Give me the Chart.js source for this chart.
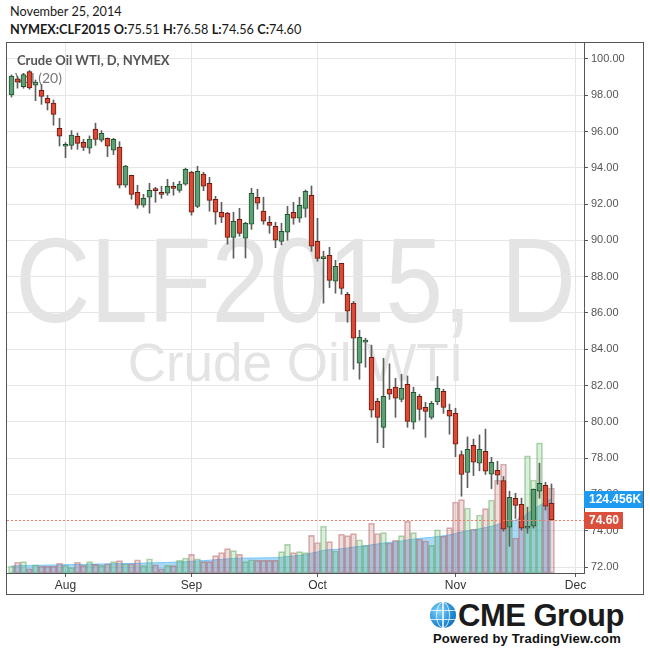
<!DOCTYPE html>
<html>
<head>
<meta charset="utf-8">
<script src="https://cdn.jsdelivr.net/npm/chart.js@4.4.1/dist/chart.umd.min.js"></script>
<style>
  body { margin: 0; background: #fff; width: 650px; height: 652px; position: relative; overflow: hidden; font-family: Lato, "Open Sans", sans-serif; }
  .head { position: absolute; left: 10px; font-size: 12.7px; line-height: 15px; color: #1a1a1a; white-space: nowrap; }
  #date { top: 4px; }
  #quote { top: 22px; }
  #quote b { font-weight: 700; }
  #frame { position: absolute; left: 6px; top: 42px; width: 636px; height: 551px; border: 1px solid #555; }
  #frame canvas { display: block; }
  #globe { position: absolute; left: 430px; top: 602px; width: 26px; height: 26px; border-radius: 50%;
    background:
      linear-gradient(to bottom, transparent 30%, rgba(255,255,255,.75) 30%, rgba(255,255,255,.75) 35%, transparent 35%, transparent 65%, rgba(255,255,255,.75) 65%, rgba(255,255,255,.75) 70%, transparent 70%),
      linear-gradient(to right, transparent 47%, rgba(255,255,255,.75) 47%, rgba(255,255,255,.75) 53%, transparent 53%),
      radial-gradient(circle at 35% 35%, #86d6fa, #1b86d6 60%, #0c5a9e); }
  #globe i { position: absolute; left: 6px; top: 0; width: 12px; height: 24px; border: 1px solid rgba(255,255,255,.75); border-radius: 50%; }
  #cme { position: absolute; left: 458px; top: 598px; font: bold 31px "Liberation Sans", Arial, sans-serif; color: #1b1b1b; letter-spacing: -0.5px; }
  #powered { position: absolute; left: 433px; top: 631px; font: bold 13px "Liberation Sans", Arial, sans-serif; color: #111; letter-spacing: 0.2px; }
</style>
</head>
<body>
<div class="head" id="date">November 25, 2014</div>
<div class="head" id="quote"><b>NYMEX:CLF2015 O:</b>75.51 <b>H:</b>76.58 <b>L:</b>74.56 <b>C:</b>74.60</div>
<div id="frame"><canvas id="chart" width="636" height="551"></canvas></div>
<div id="globe"><i></i></div>
<div id="cme">CME Group</div>
<div id="powered">Powered by TradingView.com</div>

<script>
// daily bars Jul 21 .. Nov 25 2014, one entry per trading day
const opens = [98.02, 98.91, 98.47, 99.30, 98.55, 98.27, 97.83, 97.57, 96.18, 95.19,
  95.24, 95.74, 95.41, 95.08, 96.13, 95.52, 95.63, 94.97, 95.15, 93.04,
  93.59, 92.65, 91.94, 92.38, 92.78, 92.65, 92.60, 92.93, 92.76, 93.10,
  93.76, 91.88, 93.65, 93.15, 92.27, 91.55, 91.50, 90.17, 91.16, 90.12,
  90.89, 92.38, 91.61, 91.00, 90.78, 89.95, 90.45, 91.55, 91.22, 91.77,
  92.49, 89.95, 89.00, 89.18, 87.75, 88.74, 87.03, 86.54, 83.23, 84.39,
  83.56, 81.13, 79.70, 81.80, 81.91, 81.24, 82.07, 79.98, 81.41, 80.80,
  80.25, 81.10, 81.68, 80.64, 80.47, 78.20, 77.22, 78.71, 77.72, 78.38,
  77.11, 77.33, 76.77, 74.19, 75.79, 75.46, 74.14, 74.25, 76.18, 76.50,
  75.51]
const highs = [99.12, 99.03, 99.20, 99.36, 98.84, 98.60, 98.00, 97.74, 96.73, 95.39,
  96.05, 95.92, 95.57, 95.76, 96.46, 96.05, 95.65, 95.63, 95.44, 94.14,
  93.60, 93.04, 92.54, 93.15, 92.93, 92.98, 93.37, 93.20, 93.26, 93.98,
  93.81, 94.09, 93.76, 93.48, 92.43, 92.10, 91.55, 91.55, 91.77, 91.00,
  92.87, 92.82, 92.38, 91.33, 91.00, 90.94, 91.88, 92.10, 92.38, 92.78,
  93.00, 91.22, 89.40, 89.62, 88.90, 88.74, 87.14, 86.64, 85.05, 84.61,
  84.22, 81.30, 83.50, 83.20, 82.40, 82.62, 82.53, 81.91, 81.52, 81.08,
  81.13, 82.50, 81.80, 80.98, 80.75, 78.40, 79.17, 79.05, 79.28, 79.60,
  78.05, 77.83, 76.99, 76.18, 76.06, 75.80, 75.30, 76.30, 77.72, 76.67,
  76.58]
const lows = [97.90, 98.39, 98.39, 98.33, 97.70, 97.50, 97.19, 96.35, 95.20, 94.56,
  95.02, 95.02, 94.95, 94.80, 95.24, 95.43, 94.62, 94.73, 92.89, 92.93,
  92.27, 91.77, 91.83, 91.50, 92.10, 92.32, 92.49, 92.49, 92.65, 93.04,
  91.39, 91.80, 92.74, 91.61, 90.89, 90.98, 89.79, 89.02, 90.23, 89.03,
  90.61, 91.72, 90.89, 90.39, 89.60, 89.75, 90.01, 90.89, 91.00, 91.28,
  89.40, 88.85, 86.54, 87.40, 87.09, 87.03, 85.49, 82.90, 82.35, 83.01,
  80.25, 78.85, 78.58, 81.24, 80.25, 81.10, 79.70, 79.60, 80.09, 79.15,
  80.15, 80.95, 80.47, 79.32, 78.08, 75.90, 76.37, 77.04, 77.30, 77.10,
  76.32, 76.56, 73.97, 73.14, 74.68, 74.03, 73.86, 74.14, 75.79, 75.14,
  74.56]
const closes = [99.06, 98.72, 99.14, 98.40, 98.72, 97.94, 97.56, 96.95, 95.74, 95.30,
  95.80, 95.35, 95.13, 95.59, 95.57, 95.90, 95.19, 95.57, 93.04, 94.09,
  92.54, 91.94, 92.32, 92.76, 92.74, 92.54, 92.98, 92.87, 93.10, 93.92,
  91.55, 93.81, 92.99, 92.21, 91.55, 91.28, 90.17, 91.05, 90.39, 90.94,
  92.60, 92.05, 91.06, 90.83, 90.01, 90.50, 91.44, 91.22, 91.94, 92.71,
  89.68, 89.01, 89.04, 87.80, 88.57, 87.36, 86.10, 84.61, 84.66, 84.44,
  80.64, 80.25, 81.41, 81.52, 81.30, 81.85, 80.03, 81.63, 80.69, 80.58,
  81.02, 81.85, 80.80, 80.31, 78.77, 77.10, 78.49, 77.78, 78.49, 77.28,
  77.77, 77.06, 74.08, 75.84, 75.40, 74.14, 74.25, 76.28, 76.61, 75.35,
  74.60]
// volume, thousands of contracts
const volumes = [11.8, 18.0, 19.0, 7.2, 13.9, 11.8, 11.3, 11.3, 16.3, 13.4,
  8.9, 18.0, 12.9, 19.0, 14.6, 12.9, 15.6, 19.0, 20.7, 15.6,
  15.6, 22.3, 12.3, 24.0, 13.9, 7.2, 12.9, 12.3, 21.3, 25.2,
  31.4, 24.0, 19.0, 19.0, 29.1, 34.1, 40.8, 37.5, 31.4, 19.0,
  22.3, 21.3, 21.3, 21.3, 21.3, 35.8, 48.2, 34.1, 35.8, 34.1,
  63.3, 51.2, 78.5, 52.6, 37.0, 65.0, 62.7, 66.0, 55.9, 46.5,
  83.5, 66.4, 67.7, 50.4, 55.4, 62.7, 86.9, 67.7, 57.1, 53.8,
  46.5, 72.7, 61.7, 76.1, 119.3, 123.1, 109.2, 73.9, 97.4, 108.0,
  122.6, 156.2, 183.1, 87.4, 58.8, 94.1, 196.6, 156.2, 218.4, 114.2,
  142.8]
// Vol (20) moving average as drawn, thousands
const volumeMA = [11.8, 12.1, 12.4, 12.6, 12.8, 13.1, 13.3, 13.4, 13.6, 13.9,
  14.1, 14.3, 14.4, 14.8, 15.0, 15.1, 15.3, 15.5, 15.6, 15.8,
  16.0, 16.3, 16.6, 17.0, 17.3, 17.5, 17.8, 18.1, 18.5, 18.8,
  19.7, 20.3, 20.8, 21.5, 22.2, 22.8, 23.7, 24.4, 24.9, 25.0,
  25.2, 25.2, 25.4, 25.5, 25.7, 26.5, 27.7, 28.6, 29.6, 30.7,
  33.3, 35.3, 38.0, 39.1, 39.6, 40.8, 42.0, 43.5, 44.7, 45.4,
  47.4, 48.7, 50.4, 51.4, 52.6, 53.6, 55.4, 56.8, 58.1, 59.1,
  59.8, 61.2, 62.5, 63.8, 66.4, 68.9, 70.9, 72.2, 74.3, 76.3,
  78.3, 81.3, 85.0, 87.4, 88.7, 91.6, 100.0, 106.7, 113.4, 119.3,
  124.456]
const priceTicks = [72, 74, 76, 78, 80, 82, 84, 86, 88, 90, 92, 94, 96, 98, 100]
const monthLabels = ["Aug", "Sep", "Oct", "Nov", "Dec"]
const monthStarts = [9, 30, 51, 74, 94]   // trading-day index of each month's first session

const idx = opens.map((_, i) => i)
const isUp = idx.map(i => closes[i] >= opens[i])
const last = closes.length - 1

//#region overlay plugin
const overlay = {
    id: "overlay",
    beforeDraw: chart => {
        let { ctx, chartArea: a } = chart
        let cx = (a.left + a.right) / 2
        ctx.save()
        ctx.fillStyle = "#e4e4e4"
        ctx.textAlign = "center"
        // big symbol watermark is a bit taller than plain Liberation Sans
        ctx.save()
        ctx.translate(cx, a.top + 279)
        ctx.scale(1, 1.15)
        ctx.font = '104px "Liberation Sans"'
        ctx.fillText("CLF2015, D", 0, 0)
        ctx.restore()
        ctx.font = '53px "Liberation Sans"'
        ctx.fillText("Crude Oil WTI", cx, a.top + 338)
        ctx.restore()
    },
    beforeDatasetsDraw: chart => {
        let { ctx, chartArea: a } = chart
        ctx.save()
        ctx.textAlign = "left"
        ctx.fillStyle = "#555"
        ctx.font = 'bold 13px Lato'
        ctx.fillText("Crude Oil WTI, D, NYMEX", a.left + 10, a.top + 22)
        ctx.fillStyle = "#777"
        ctx.font = '14px Lato'
        ctx.fillText("Vol (20)", a.left + 8, a.top + 40)
        ctx.restore()
    },
    afterDraw: chart => {
        let { ctx, chartArea: a, scales } = chart
        let py = scales.y.getPixelForValue(closes[last])
        let vy = scales.v.getPixelForValue(volumeMA[last])
        ctx.save()
        ctx.strokeStyle = "#ef7b68"
        ctx.lineWidth = 1
        ctx.setLineDash([2, 2])
        ctx.beginPath()
        ctx.moveTo(a.left, Math.round(py) + 0.5)
        ctx.lineTo(a.right, Math.round(py) + 0.5)
        ctx.stroke()
        ctx.setLineDash([])
        ctx.font = 'bold 12px "Liberation Sans"'
        ctx.textBaseline = "middle"
        ctx.fillStyle = "#1e9af0"
        ctx.fillRect(a.right, Math.round(vy) - 8, chart.width - a.right, 17)
        ctx.fillStyle = "#fff"
        ctx.fillText(volumeMA[last].toFixed(3) + "K", a.right + 5, Math.round(vy) + 1)
        ctx.fillStyle = "#d9503c"
        ctx.fillRect(a.right, Math.round(py) - 8, 39, 17)
        ctx.fillStyle = "#fff"
        ctx.fillText(closes[last].toFixed(2), a.right + 5, Math.round(py) + 1)
        ctx.restore()
    }
}
//#endregion

//#region chart
new Chart("chart", {
    type: "bar",
    data: {
        datasets: [{
            label: "body",
            data: idx.map(i => ({ x: i, y: [opens[i], closes[i]] })),
            backgroundColor: idx.map(i => isUp[i] ? "#5f9f75" : "#dc4a35"),
            borderColor: idx.map(i => isUp[i] ? "#1f5530" : "#6c1b12"),
            borderWidth: 1,
            borderSkipped: false,
            barThickness: 5,
            minBarLength: 2,
            grouped: false,
            yAxisID: "y",
            order: 0
        }, {
            label: "wick",
            data: idx.map(i => ({ x: i, y: [lows[i], highs[i]] })),
            backgroundColor: "#5e5e5e",
            barThickness: 1,
            grouped: false,
            yAxisID: "y",
            order: 1
        }, {
            label: "volume",
            data: idx.map(i => ({ x: i, y: volumes[i] })),
            backgroundColor: idx.map(i => isUp[i] ? "rgba(80,170,80,0.2)" : "rgba(180,90,90,0.2)"),
            borderColor: idx.map(i => isUp[i] ? "rgba(80,160,80,0.45)" : "rgba(170,80,80,0.45)"),
            borderWidth: 1,
            borderSkipped: false,
            barThickness: 6,
            grouped: false,
            yAxisID: "v",
            order: 2
        }, {
            type: "line",
            label: "Vol (20)",
            data: idx.map(i => ({ x: i, y: volumeMA[i] })),
            fill: "origin",
            backgroundColor: "rgba(66,168,238,0.45)",
            borderColor: "rgba(110,195,250,0.9)",
            borderWidth: 1,
            pointRadius: 0,
            tension: 0,
            yAxisID: "v",
            order: 3
        }]
    },
    options: {
        responsive: false,
        animation: false,
        devicePixelRatio: 1,
        layout: { padding: 0 },
        plugins: { legend: { display: false }, tooltip: { enabled: false } },
        scales: {
            x: {
                type: "linear",
                min: -0.75,
                max: 95.42,
                offset: false,
                afterBuildTicks: s => { s.ticks = monthStarts.map(v => ({ value: v })) },
                afterFit: s => { s.height = 21; s.paddingLeft = 0; s.paddingRight = 0 },
                ticks: {
                    callback: v => monthLabels[monthStarts.indexOf(v)],
                    autoSkip: false, maxRotation: 0, padding: 1,
                    color: "#333",
                    font: { family: "Liberation Sans", size: 12 }
                },
                grid: { color: "#e6e6e6", tickColor: "#555", tickLength: 4, offset: false },
                border: { color: "#555" }
            },
            y: {
                position: "right",
                min: 71.67,
                max: 100.88,
                afterBuildTicks: s => { s.ticks = priceTicks.map(v => ({ value: v })) },
                afterFit: s => { s.width = 59; s.paddingTop = 0; s.paddingBottom = 0 },
                ticks: {
                    callback: v => v.toFixed(2),
                    padding: 3,
                    color: "#555",
                    font: { family: "Liberation Sans", size: 11 }
                },
                grid: { color: "#e6e6e6", tickColor: "#555", tickLength: 4 },
                border: { color: "#555" }
            },
            v: { display: false, min: 0, max: 890 }
        }
    },
    plugins: [overlay]
})
//#endregion
</script>
</body>
</html>
